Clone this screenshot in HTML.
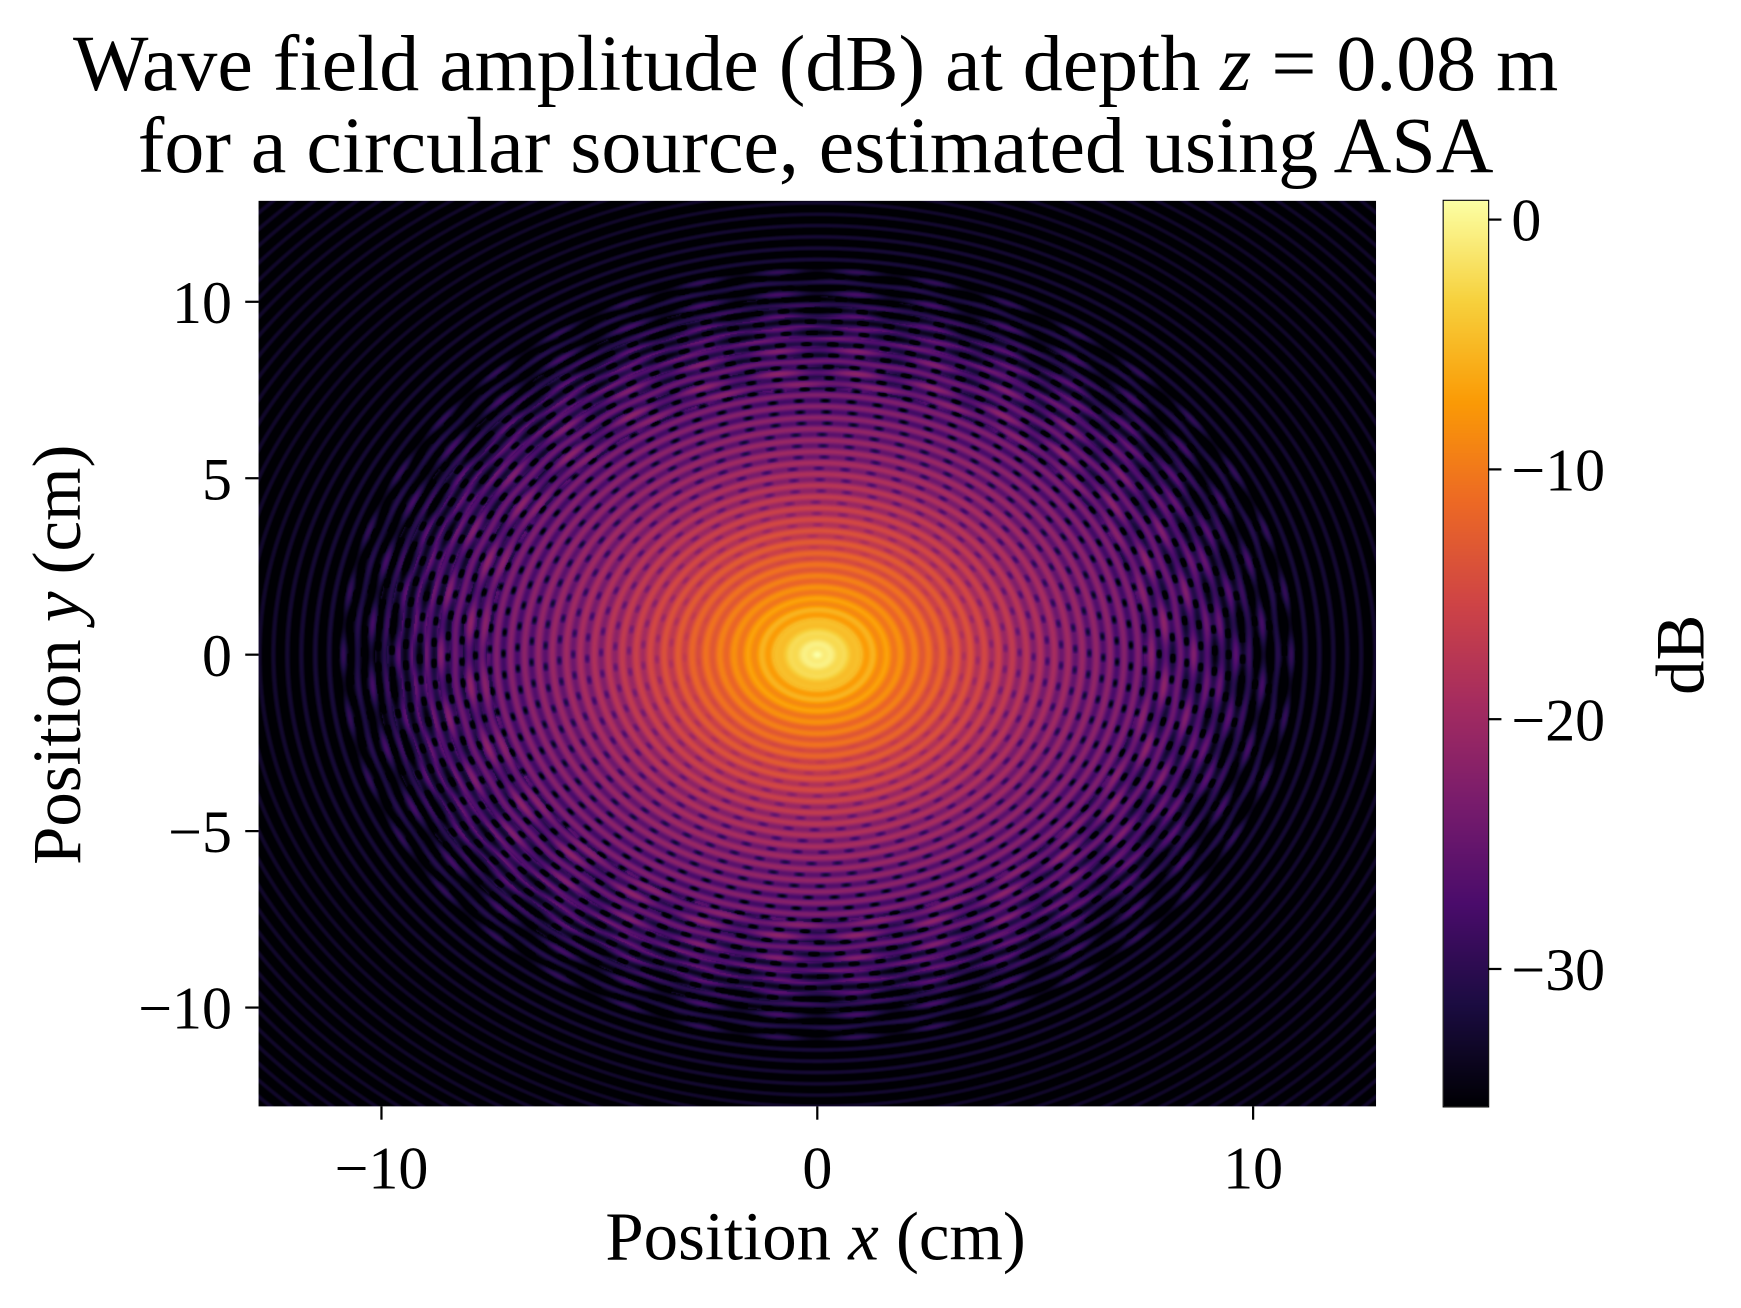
<!DOCTYPE html>
<html><head><meta charset="utf-8">
<style>
html,body{margin:0;padding:0;background:#fff;}
#root{position:absolute;left:0;top:0;width:1741px;height:1308px;overflow:hidden;}
#wrap{position:absolute;left:0;top:0;width:1569px;height:1179px;transform:scale(1.1097);transform-origin:0 0;font-family:"Liberation Serif",serif;color:#000;}
.t{position:absolute;white-space:nowrap;}
</style></head>
<body>
<div id="root">
<div id="wrap">
  <div class="t" style="left:0;width:1470px;top:20px;text-align:center;font-size:72px;line-height:74px;">Wave field amplitude (dB) at depth <i>z</i> = 0.08 m<br>for a circular source, estimated using ASA</div>
  <canvas id="heat" width="1007" height="816" style="position:absolute;left:233px;top:181px;width:1007px;height:816px;"></canvas>
  <canvas id="cbar" width="40" height="816" style="position:absolute;left:1301px;top:181px;width:40px;height:816px;"></canvas>
  <div style="position:absolute;left:1300px;top:180px;width:40px;height:816px;border:1.5px solid #000;"></div>
  <svg id="axes" width="1569" height="1179" style="position:absolute;left:0;top:0;overflow:visible"></svg>
</div>
</div>
<script>
// ---- data ----
const radiusCm = [0, 0.5, 1, 2, 3, 4, 5, 6, 7, 8, 9, 10, 11, 13, 18];
const envelopeDb = [0.5, -2, -5.5, -10, -14, -17.5, -20.5, -23, -25, -27, -29, -33, -35, -36, -36];
const xTicks = [-10, 0, 10];
const yTicks = [-10, -5, 0, 5, 10];
const cbTicks = [0, -10, -20, -30];
const infernoStops = ["#000004","#1b0c41","#4a0c6b","#781c6d","#a52c60","#cf4446","#ed6925","#fb9b06","#f7d13d","#fcffa4"];
const ringPeriodCm = 0.32;
const xDomain = [-12.82, 12.82], yDomain = [-12.8, 12.86], cDomain = [-35.5, 0.75];
// ---- scales ----
const PL=233, PR=1240, PT=181, PB=997, CT=181, CB=997;
const sx = v => PL + (v - xDomain[0]) / (xDomain[1]-xDomain[0]) * (PR-PL);
const sy = v => PB - (v - yDomain[0]) / (yDomain[1]-yDomain[0]) * (PB-PT);
const sc = v => CB - (v - cDomain[0]) / (cDomain[1]-cDomain[0]) * (CB-CT);
const stops = infernoStops.map(h=>[parseInt(h.slice(1,3),16),parseInt(h.slice(3,5),16),parseInt(h.slice(5,7),16)]);
function cmap(db){
  let t=(db-cDomain[0])/(cDomain[1]-cDomain[0]); t=Math.max(0,Math.min(1,t));
  const f=t*(stops.length-1), i=Math.min(stops.length-2,Math.floor(f)), u=f-i;
  return stops[i].map((c,k)=>c+(stops[i+1][k]-c)*u);
}
function env(r){
  for(let i=0;i<radiusCm.length-1;i++){ if(r<=radiusCm[i+1]){const u=(r-radiusCm[i])/(radiusCm[i+1]-radiusCm[i]);return envelopeDb[i]+(envelopeDb[i+1]-envelopeDb[i])*u;} }
  return envelopeDb[envelopeDb.length-1];
}
// heatmap
(function(){
  const c=document.getElementById('heat'), ctx=c.getContext('2d');
  const W=c.width,H=c.height, img=ctx.createImageData(W,H);
  const P=ringPeriodCm;
  for(let j=0;j<H;j++){
    const y=yDomain[1]-(j+0.5)/H*(yDomain[1]-yDomain[0]);
    for(let i=0;i<W;i++){
      const x=xDomain[0]+(i+0.5)/W*(xDomain[1]-xDomain[0]);
      const r=Math.hypot(x,y), th=Math.atan2(y,x);
      let d=env(r);
      const ring=Math.cos(2*Math.PI*r/P);
      const idx=Math.floor(r/P);
      const N=Math.max(4,Math.round(2*Math.PI*(idx+0.5)*P/0.6));
      const ang=Math.cos(N*th+idx*1.3);
      const depth = r<1?0.6: Math.min(3.5, 1+r*0.3);
      d += depth*ring*0.9;
      if(r>2.5) d -= Math.max(0,-ring)*Math.max(0,ang)*Math.min(10,(r-2.5)*1.8);
      if(r>7.5 && r<11){ const b=Math.cos(2*Math.PI*(r-7.5)/1.1); d += 2.5*b*Math.cos(Math.round(r*3.5)*th); }
      const k=(j*W+i)*4, col=cmap(d);
      img.data[k]=col[0];img.data[k+1]=col[1];img.data[k+2]=col[2];img.data[k+3]=255;
    }
  }
  ctx.putImageData(img,0,0);
})();
// colorbar
(function(){
  const c=document.getElementById('cbar'), ctx=c.getContext('2d');
  for(let j=0;j<c.height;j++){
    const v=cDomain[1]-(j+0.5)/c.height*(cDomain[1]-cDomain[0]);
    const col=cmap(v); ctx.fillStyle=`rgb(${col[0]|0},${col[1]|0},${col[2]|0})`; ctx.fillRect(0,j,c.width,1);
  }
})();
// axes
(function(){
  const svg=document.getElementById('axes'), NS='http://www.w3.org/2000/svg';
  function el(tag,attrs,txt){const e=document.createElementNS(NS,tag);for(const k in attrs)e.setAttribute(k,attrs[k]);if(txt!==undefined)e.textContent=txt;svg.appendChild(e);return e;}
  const fmt=v=>v<0?'\u2212'+(-v):String(v);
  const FS=54;
  xTicks.forEach(v=>{
    const l=el('line',{x1:sx(v),x2:sx(v),y1:PB,y2:PB+12,stroke:'#000','stroke-width':2});
     
    const t=el('text',{x:sx(v),y:PB+74,'text-anchor':'middle','font-size':FS,'font-family':'Liberation Serif, serif'},fmt(v));
     
  });
  yTicks.forEach(v=>{
    const l=el('line',{x1:PL-12,x2:PL,y1:sy(v),y2:sy(v),stroke:'#000','stroke-width':2});
     
    const t=el('text',{x:PL-24,y:sy(v)+19,'text-anchor':'end','font-size':FS,'font-family':'Liberation Serif, serif'},fmt(v));
     
  });
  cbTicks.forEach(v=>{
    const l=el('line',{x1:1341,x2:1353,y1:sc(v),y2:sc(v),stroke:'#000','stroke-width':2});
     
    const t=el('text',{x:1362,y:sc(v)+19,'text-anchor':'start','font-size':FS,'font-family':'Liberation Serif, serif'},fmt(v));
     
  });
  const xl=el('text',{x:735,y:1135,'text-anchor':'middle','font-size':62,'font-family':'Liberation Serif, serif'});
  xl.innerHTML='Position <tspan font-style="italic">x</tspan> (cm)';
   
  const yl=el('text',{x:0,y:0,'text-anchor':'middle','font-size':62,'font-family':'Liberation Serif, serif',transform:'translate(72,590) rotate(-90)'});
  yl.innerHTML='Position <tspan font-style="italic">y</tspan> (cm)';
   
  const cl=el('text',{x:0,y:0,'text-anchor':'middle','font-size':62,'font-family':'Liberation Serif, serif',transform:'translate(1535,590) rotate(-90)'},'dB');
   
})();
</script>
</body></html>
